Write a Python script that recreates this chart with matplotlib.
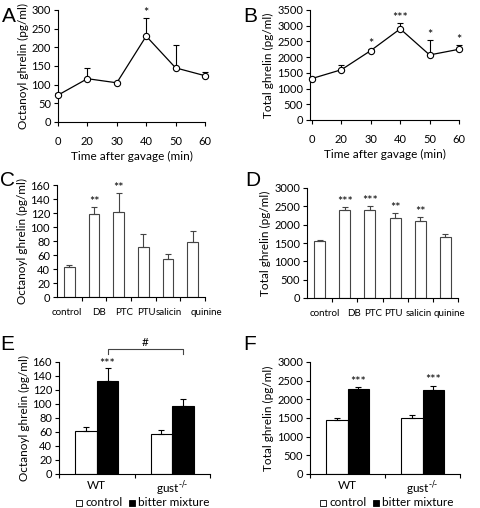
import matplotlib
matplotlib.use('Agg')
import matplotlib.pyplot as plt
from matplotlib.patches import Rectangle
from matplotlib.transforms import ScaledTranslation

plt.rcParams['font.family'] = ['Lato', 'DejaVu Sans']
plt.rcParams['font.size'] = 8
plt.rcParams['axes.linewidth'] = 0.8

# panel A / B: time course
time_labels = ['0', '20', '30', '40', '50', '60']
octanoyl_time = [72, 116, 105, 230, 145, 124]
octanoyl_time_err = [6, 29, 2, 48, 62, 9]
octanoyl_time_stars = ['', '', '', '*', '', '']
total_time = [1320, 1600, 2210, 2900, 2070, 2250]
total_time_err = [40, 150, 60, 200, 480, 150]
total_time_stars = ['', '', '*', '***', '*', '*']

# panel C / D: single bitter compounds
compounds = ['control', 'DB', 'PTC', 'PTU', 'salicin', 'quinine']
octanoyl_cmp = [43, 118, 121, 72, 54, 78]
octanoyl_cmp_err = [3, 11, 28, 18, 7, 16]
octanoyl_cmp_stars = ['', '**', '**', '', '', '']
total_cmp = [1560, 2400, 2400, 2170, 2100, 1660]
total_cmp_err = [20, 80, 120, 160, 100, 80]
total_cmp_stars = ['', '***', '***', '**', '**', '']

# panel E / F: WT vs gustducin KO
genotypes = ['WT', r'gust$^{\text{-/-}}$']
octanoyl_ctrl = [62, 57]
octanoyl_ctrl_err = [5, 6]
octanoyl_bitter = [133, 97]
octanoyl_bitter_err = [18, 10]
total_ctrl = [1450, 1500]
total_ctrl_err = [40, 70]
total_bitter = [2270, 2260]
total_bitter_err = [50, 110]

fig = plt.figure(figsize=(4.8, 5.08), dpi=100)
W, H = 480.0, 508.0


def make_axes(left, right, top, bottom):
    return fig.add_axes([left / W, 1 - bottom / H, (right - left) / W, (bottom - top) / H])


def style(ax):
    ax.spines['top'].set_visible(False)
    ax.spines['right'].set_visible(False)
    ax.tick_params(direction='out', length=3, width=0.8, pad=2, labelsize=8)


def line_panel(ax, vals, errs, stars, ymax, ystep, ylabel, xlim):
    x = list(range(len(vals)))
    ax.errorbar(x, vals, yerr=[[0] * len(errs), errs], fmt='none', ecolor='black',
                elinewidth=0.8, capsize=2, capthick=0.8, clip_on=False, zorder=2)
    ax.plot(x, vals, '-o', color='black', lw=0.9, ms=4.5, mfc='white', mec='black',
            mew=0.8, clip_on=False, zorder=3)
    for xi, v, e, s in zip(x, vals, errs, stars):
        if s:
            ax.text(xi, v + e - ymax * 0.01, s, ha='center', va='bottom', fontsize=9)
    ax.set_xlim(*xlim)
    ax.set_ylim(0, ymax)
    ax.set_yticks(range(0, ymax + 1, ystep))
    ax.set_xticks(x)
    ax.set_xticklabels(time_labels)
    style(ax)
    ax.tick_params(axis='x', pad=7)
    ax.set_xlabel('Time after gavage (min)', fontsize=8.5, labelpad=3)
    ax.set_ylabel(ylabel, fontsize=8.5, labelpad=2)


def bar_panel(ax, vals, errs, stars, ymax, ystep, ylabel, width, label_shift):
    x = list(range(len(vals)))
    ax.bar(x, vals, width=width, color='white', edgecolor='#444444', linewidth=0.8,
           yerr=[[0] * len(errs), errs],
           error_kw=dict(elinewidth=0.8, capsize=2, capthick=0.8, ecolor='#444444'))
    for xi, v, e, s in zip(x, vals, errs, stars):
        if s:
            ax.text(xi, v + e - ymax * 0.01, s, ha='center', va='bottom', fontsize=9)
    ax.set_xlim(-0.5, len(vals) - 0.5)
    ax.set_ylim(0, ymax)
    ax.set_yticks(range(0, ymax + 1, ystep))
    ax.set_xticks([i + 0.5 for i in x])
    ax.set_xticklabels([])
    ax.set_xticks(x, minor=True)
    ax.set_xticklabels(compounds, minor=True)
    style(ax)
    ax.tick_params(axis='x', which='minor', length=0, pad=8, labelsize=7)
    for lbl, dx in zip(ax.get_xticklabels(minor=True), label_shift):
        lbl.set_transform(lbl.get_transform() + ScaledTranslation(dx / 100, 0, fig.dpi_scale_trans))
    ax.set_ylabel(ylabel, fontsize=8.5, labelpad=2)


def group_panel(ax, ctrl, ctrl_err, bitter, bitter_err, ymax, ystep, ylabel):
    x = list(range(len(ctrl)))
    w = 0.285
    ek = dict(elinewidth=0.8, capsize=2, capthick=0.8, ecolor='black')
    ax.bar([i - w / 2 for i in x], ctrl, width=w, color='white', edgecolor='black', linewidth=0.8,
           yerr=[[0] * len(ctrl_err), ctrl_err], error_kw=ek)
    ax.bar([i + w / 2 for i in x], bitter, width=w, color='black', edgecolor='black', linewidth=0.8,
           yerr=[[0] * len(bitter_err), bitter_err], error_kw=ek)
    ax.set_xlim(-0.5, len(ctrl) - 0.5)
    ax.set_ylim(0, ymax)
    ax.set_yticks(range(0, ymax + 1, ystep))
    ax.set_xticks([-0.5, 0.5, 1.5])
    ax.set_xticklabels([])
    ax.set_xticks(x, minor=True)
    ax.set_xticklabels(genotypes, minor=True)
    ax.set_ylabel(ylabel, fontsize=8.5, labelpad=2)
    style(ax)
    ax.tick_params(axis='x', which='minor', length=0, pad=4, labelsize=8.5)
    return w


# A
axA = make_axes(58, 205, 10, 122)
line_panel(axA, octanoyl_time, octanoyl_time_err, octanoyl_time_stars, 300, 50,
           'Octanoyl ghrelin (pg/ml)', (0, 5))
# B
axB = make_axes(310, 459, 10, 120)
line_panel(axB, total_time, total_time_err, total_time_stars, 3500, 500,
           'Total ghrelin (pg/ml)', (-0.07, 5))
# C
axC = make_axes(57, 205, 185, 297)
bar_panel(axC, octanoyl_cmp, octanoyl_cmp_err, octanoyl_cmp_stars, 160, 20,
          'Octanoyl ghrelin (pg/ml)', 0.42, [-3, 5, 5, 3, 1, 14])
# D
axD = make_axes(307, 458, 188, 298)
bar_panel(axD, total_cmp, total_cmp_err, total_cmp_stars, 3000, 500,
          'Total ghrelin (pg/ml)', 0.44, [5, 9, 3, -2, -2, 4])
# E
axE = make_axes(59, 210, 362, 474)
w = group_panel(axE, octanoyl_ctrl, octanoyl_ctrl_err, octanoyl_bitter, octanoyl_bitter_err,
                160, 20, 'Octanoyl ghrelin (pg/ml)')
axE.text(w / 2, octanoyl_bitter[0] + octanoyl_bitter_err[0] - 2, '***', ha='center', va='bottom', fontsize=9)
yb = 178.5
axE.plot([w / 2, w / 2, 1 + w / 2, 1 + w / 2], [yb - 7, yb, yb, yb - 7], color='#444444', lw=0.8, clip_on=False)
axE.text(0.5 + w / 2, yb + 2, '#', ha='center', va='bottom', fontsize=8.5)
# F
axF = make_axes(310, 460, 362, 474)
w = group_panel(axF, total_ctrl, total_ctrl_err, total_bitter, total_bitter_err,
                3000, 500, 'Total ghrelin (pg/ml)')
for i in range(2):
    axF.text(i + w / 2, total_bitter[i] + total_bitter_err[i] - 20, '***', ha='center', va='bottom', fontsize=9)

# legends below E and F
for x0 in (76, 320):
    fig.patches.append(Rectangle((x0 / W, 1 - 506 / H), 6 / W, 6 / H, transform=fig.transFigure,
                                 facecolor='white', edgecolor='black', lw=0.6))
    fig.text((x0 + 9) / W, 1 - 503 / H, 'control', fontsize=8.5, va='center')
    fig.patches.append(Rectangle(((x0 + 53) / W, 1 - 506 / H), 6 / W, 6 / H, transform=fig.transFigure,
                                 facecolor='black', edgecolor='black', lw=0.6))
    fig.text((x0 + 62) / W, 1 - 503 / H, 'bitter mixture', fontsize=8.5, va='center')

# panel letters
for lab, (px, py) in zip('ABCDEF', [(2, 16), (243, 16), (0, 180), (245, 180), (0, 345), (243, 345)]):
    fig.text(px / W, 1 - py / H, lab, fontsize=15, family='Liberation Sans', va='center', ha='left')

fig.savefig('out.png', dpi=100)
